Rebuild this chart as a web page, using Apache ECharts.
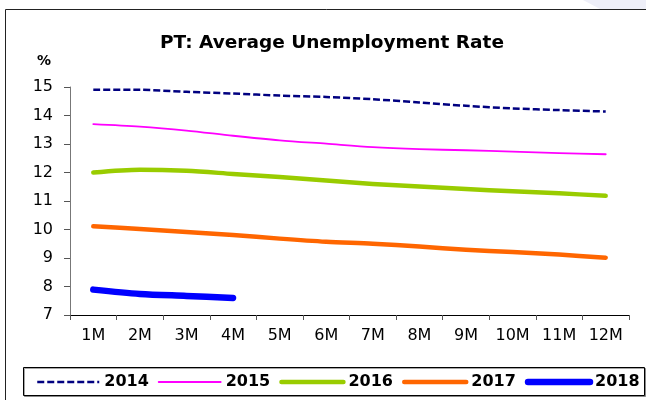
<!DOCTYPE html>
<html>
<head>
<meta charset="utf-8">
<title>PT: Average Unemployment Rate</title>
<script src="https://cdn.jsdelivr.net/npm/echarts@6/dist/echarts.min.js"></script>
<style>
  html, body { margin: 0; padding: 0; background: #fff; }
  #chart { width: 646px; height: 400px; }
</style>
</head>
<body>
<div id="chart"></div>
<script>
// Months into the year
const months = ['1M', '2M', '3M', '4M', '5M', '6M', '7M', '8M', '9M', '10M', '11M', '12M'];

// Average unemployment rate (%) by year
const rate2014 = [14.9, 14.9, 14.83, 14.77, 14.7, 14.65, 14.57, 14.46, 14.34, 14.25, 14.19, 14.14];
const rate2015 = [13.7, 13.61, 13.47, 13.29, 13.13, 13.01, 12.89, 12.82, 12.78, 12.73, 12.68, 12.64];
const rate2016 = [12.0, 12.1, 12.06, 11.95, 11.84, 11.72, 11.6, 11.51, 11.42, 11.34, 11.27, 11.18];
const rate2017 = [10.11, 10.02, 9.91, 9.81, 9.68, 9.57, 9.5, 9.4, 9.29, 9.21, 9.12, 9.01];
const rate2018 = [7.89, 7.74, 7.67, 7.6];

const yTicks = { min: 7, max: 15, step: 1 };

const FONT = '"DejaVu Sans", "Liberation Sans", Arial, sans-serif';

// per-year line look: colour, width, dashed
const styles = {
  '2014': { color: '#000080', width: 2.5, dashed: true },
  '2015': { color: '#ff00ff', width: 1.8, dashed: false },
  '2016': { color: '#99cc00', width: 4.5, dashed: false },
  '2017': { color: '#ff6600', width: 4.5, dashed: false },
  '2018': { color: '#0000ff', width: 6.5, dashed: false }
};

function lineStyleFor(name) {
  const s = styles[name];
  return {
    color: s.color,
    width: s.width,
    type: s.dashed ? [7, 3] : 'solid',
    cap: s.dashed ? 'butt' : 'round',
    join: 'round'
  };
}

function lineSeries(name, data) {
  return {
    name: name,
    type: 'line',
    data: data,
    smooth: 0.3,
    symbol: 'none',
    lineStyle: lineStyleFor(name),
    itemStyle: { color: styles[name].color },
    emphasis: { disabled: true }
  };
}

const years = ['2014', '2015', '2016', '2017', '2018'];

const chart = echarts.init(document.getElementById('chart'), null, { renderer: 'canvas' });

chart.setOption({
  animation: false,
  backgroundColor: '#ffffff',
  title: {
    text: 'PT: Average Unemployment Rate',
    left: 327,
    top: 29,
    textAlign: 'center',
    textStyle: { fontFamily: FONT, fontSize: 18.5, fontWeight: 'bold', color: '#000' }
  },
  graphic: [
    // light swoosh in the top-right corner
    {
      type: 'polygon',
      silent: true,
      shape: { points: [[583, 0], [646, 0], [646, 9], [600, 9]] },
      style: { fill: '#eeeff8' }
    },
    // outer chart frame
    {
      type: 'rect',
      silent: true,
      shape: { x: 5.5, y: 9.5, width: 660, height: 420 },
      style: { fill: 'none', stroke: '#222', lineWidth: 1 }
    },
    // legend frame
    {
      type: 'rect',
      silent: true,
      shape: { x: 23.5, y: 367.5, width: 621, height: 28 },
      style: { fill: '#fff', stroke: '#000', lineWidth: 1, shadowColor: 'rgba(0,0,0,0.35)', shadowOffsetX: 1, shadowOffsetY: 1 }
    },
    // unit label
    {
      type: 'text',
      silent: true,
      style: {
        x: 44, y: 61, text: '%', align: 'center', verticalAlign: 'middle',
        font: 'bold 14px ' + FONT, fill: '#000'
      }
    }
  ],
  legend: {
    left: 36,
    top: 374,
    width: 700,
    padding: 0,
    itemWidth: 62,
    itemHeight: 14,
    itemGap: 9,
    itemStyle: { color: 'rgba(0,0,0,0)', borderWidth: 0, opacity: 0 },
    textStyle: { fontFamily: FONT, fontSize: 16, fontWeight: 'bold', color: '#000' },
    data: years.map(function (y) {
      return { name: y, lineStyle: lineStyleFor(y) };
    })
  },
  grid: {
    left: 70,
    right: 17,
    top: 87,
    bottom: 85,
    containLabel: false
  },
  xAxis: {
    type: 'category',
    data: months,
    boundaryGap: true,
    axisLine: { lineStyle: { color: '#000', width: 1 } },
    axisTick: { show: true, length: 5, lineStyle: { color: '#555' } },
    axisLabel: { fontFamily: FONT, fontSize: 16, color: '#000', margin: 13, interval: 0 },
    splitLine: { show: false }
  },
  yAxis: {
    type: 'value',
    min: yTicks.min,
    max: yTicks.max,
    interval: yTicks.step,
    axisLine: { show: true, lineStyle: { color: '#777', width: 1 } },
    axisTick: { show: true, length: 6, lineStyle: { color: '#555' } },
    axisLabel: { fontFamily: FONT, fontSize: 16, color: '#000', margin: 17 },
    splitLine: { show: false }
  },
  series: [
    lineSeries('2014', rate2014),
    lineSeries('2015', rate2015),
    lineSeries('2016', rate2016),
    lineSeries('2017', rate2017),
    lineSeries('2018', rate2018)
  ]
});
</script>
</body>
</html>
